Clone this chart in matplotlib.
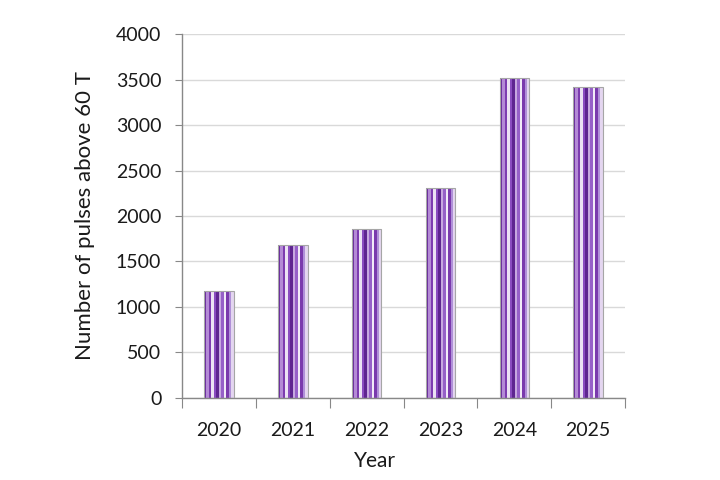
import matplotlib
matplotlib.use("Agg")
import matplotlib.pyplot as plt
import numpy as np
from matplotlib.colors import ListedColormap

years = ["2020", "2021", "2022", "2023", "2024", "2025"]
pulses = [1170, 1680, 1860, 2310, 3520, 3420]

plt.rcParams['font.family'] = ['Lato', 'DejaVu Sans']

fig = plt.figure(figsize=(7.2, 4.8), dpi=100)
ax = fig.add_axes([0.253, 0.171, 0.615, 0.758])

x = np.arange(len(years))
bars = ax.bar(x, pulses, width=0.4, facecolor='none', edgecolor='#a6a6a6', linewidth=0.8, zorder=3)

stripe_colors = ['#6a2c9e', '#b48ad6', '#7d3cb0', '#ece2f4', '#8a4cc0', '#5e2590',
                 '#c7a8e0', '#9660c8', '#f2ebf8', '#7a3aad', '#b090d8', '#e4d6f0']
cmap = ListedColormap(stripe_colors)
pattern = np.arange(len(stripe_colors)).reshape(1, -1)
for b in bars:
    x0, y0 = b.get_x(), b.get_y()
    w, h = b.get_width(), b.get_height()
    im = ax.imshow(pattern, cmap=cmap, aspect='auto', extent=[x0, x0 + w, y0, y0 + h],
                   interpolation='nearest', zorder=2)
    im.set_clip_path(b)

ax.set_xlim(-0.5, len(years) - 0.5)
ax.set_ylim(0, 4000)
ax.set_yticks(np.arange(0, 4001, 500))
ax.yaxis.grid(True, color='#d9d9d9', linewidth=1.0, zorder=0)
ax.set_axisbelow(True)

ax.set_xticks(np.arange(-0.5, len(years), 1.0))
ax.set_xticklabels([])
ax.set_xticks(x, minor=True)
ax.set_xticklabels(years, minor=True)
ax.tick_params(axis='x', which='minor', length=0, pad=17, labelsize=14, labelcolor='#1a1a1a')
ax.tick_params(axis='x', which='major', length=7, color='#888888', direction='out')
ax.tick_params(axis='y', length=5, color='#888888', labelsize=14, pad=10, labelcolor='#1a1a1a')

for s in ['top', 'right']:
    ax.spines[s].set_visible(False)
for s in ['left', 'bottom']:
    ax.spines[s].set_color('#888888')
    ax.spines[s].set_linewidth(1.0)

ax.set_xlabel('Year', fontsize=15, labelpad=2, color='#1a1a1a')
ax.xaxis.set_label_coords(0.436, -0.145)
ax.set_ylabel('Number of pulses above 60 T', fontsize=16, color='#1a1a1a')
ax.yaxis.set_label_coords(-0.196, 0.5)

fig.savefig('out.png', dpi=100, facecolor='white')
